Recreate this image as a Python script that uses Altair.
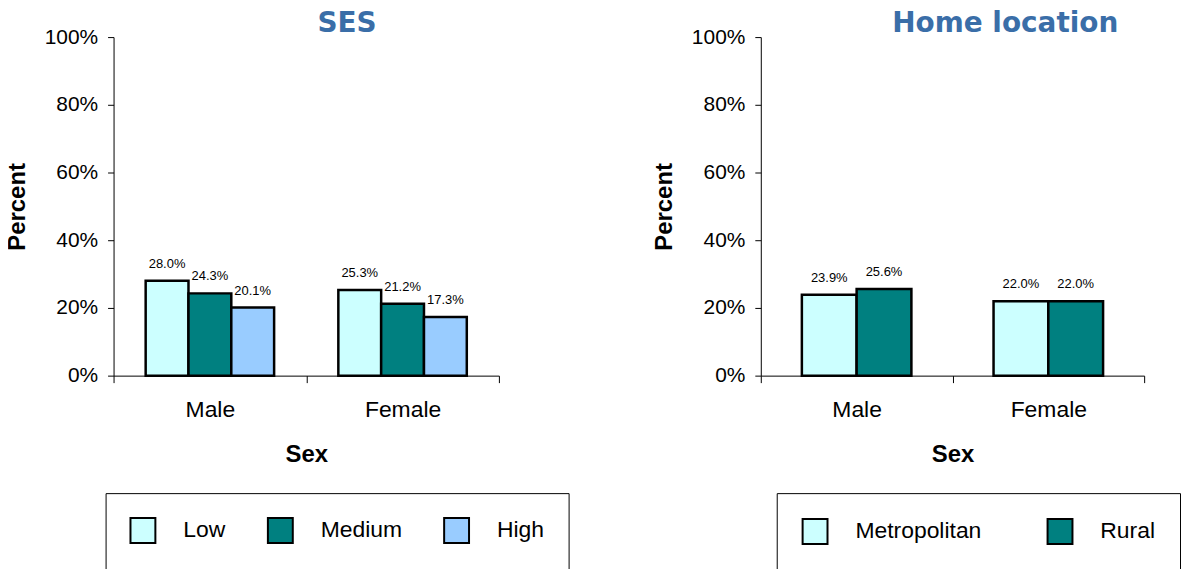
import altair as alt
import pandas as pd

sex = ["Male", "Female"]
ses_levels = ["Low", "Medium", "High"]
ses_colors = ["#CCFFFF", "#008080", "#99CCFF"]
ses_male = [28.0, 24.3, 20.1]
ses_female = [25.3, 21.2, 17.3]

loc_levels = ["Metropolitan", "Rural"]
loc_colors = ["#CCFFFF", "#008080"]
loc_male = [23.9, 25.6]
loc_female = [22.0, 22.0]

y_ticks = [0, 20, 40, 60, 80, 100]


def make_df(levels, male, female):
    rows = []
    for s, vals in zip(sex, [male, female]):
        for g, v in zip(levels, vals):
            rows.append({"Sex": s, "Group": g, "Value": v, "Label": f"{v:.1f}%"})
    return pd.DataFrame(rows)


FONT = "Liberation Sans"


def panel(df, levels, colors, title, title_dx, legend_x, legend_pad, col_pad, width):
    base = alt.Chart(df).encode(
        x=alt.X(
            "Sex:N",
            sort=sex,
            scale=alt.Scale(paddingInner=0, paddingOuter=0),
            axis=alt.Axis(
                title="Sex", labelAngle=0, tickBand="extent", tickSize=7,
                labelFontSize=23, labelPadding=16, titleFontSize=24,
                titleFontWeight="bold", titlePadding=21, domainColor="black",
                tickColor="black", labelColor="black", titleColor="black",
                labelFont=FONT, titleFont=FONT, grid=False,
            ),
        ),
        xOffset=alt.XOffset(
            "Group:N", sort=levels,
            scale=alt.Scale(domain=levels, paddingInner=0, paddingOuter=0.75),
        ),
    )
    bars = base.mark_bar(stroke="black", strokeWidth=2.5).encode(
        y=alt.Y(
            "Value:Q",
            scale=alt.Scale(domain=[0, 100]),
            axis=alt.Axis(
                values=y_ticks, labelExpr="datum.value + '%'", title="Percent",
                grid=False, tickSize=6, labelPadding=10, labelFontSize=21,
                titleFontSize=24, titleFontWeight="bold", titlePadding=15,
                domainColor="black", tickColor="black", labelColor="black",
                titleColor="black", labelFont=FONT, titleFont=FONT,
            ),
        ),
        color=alt.Color(
            "Group:N",
            sort=levels,
            scale=alt.Scale(domain=levels, range=colors),
            legend=alt.Legend(
                orient="none", legendX=legend_x, legendY=458,
                direction="horizontal", title=None, strokeColor="black",
                padding=legend_pad, symbolType="square", symbolSize=625,
                symbolStrokeColor="black", symbolStrokeWidth=2, symbolOpacity=1,
                labelFontSize=23, labelOffset=27, columnPadding=col_pad,
                labelColor="black", labelFont=FONT,
            ),
        ),
    )
    text = base.mark_text(
        baseline="alphabetic", dy=-13, fontSize=13, font=FONT, color="black"
    ).encode(y="Value:Q", text="Label:N")
    return alt.layer(bars, text).properties(
        width=width,
        height=340,
        title=alt.TitleParams(
            title, dx=title_dx, offset=-12, fontSize=28, font="DejaVu Sans",
            fontWeight="bold", color="#3a6ea8",
        ),
    )


left = panel(make_df(ses_levels, ses_male, ses_female), ses_levels, ses_colors,
             "SES", 41, -8, 24, 38, 387)
right = panel(make_df(loc_levels, loc_male, loc_female), loc_levels, loc_colors,
              "Home location", 53, 16, 25, 62, 385)

chart = (
    alt.hconcat(left, right, spacing=83)
    .resolve_scale(color="independent", xOffset="independent", x="independent", y="independent")
    .resolve_legend(color="independent")
    .properties(padding={"left": -3, "top": 1, "right": 0, "bottom": 0})
    .configure(font=FONT)
    .configure_view(stroke="transparent", strokeWidth=0)
)

chart.save("out.html", embed_options={"renderer": "svg", "actions": False})
